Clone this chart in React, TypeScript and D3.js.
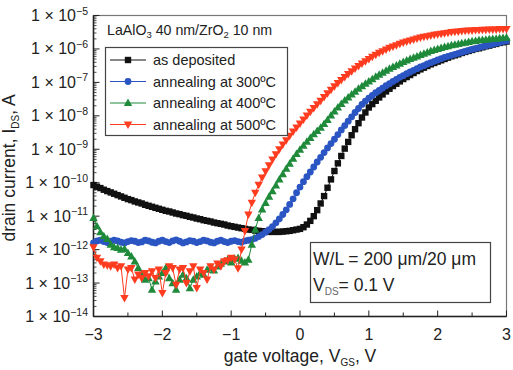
import * as d3 from 'd3';

// gate voltage sweep, -3 V .. 3 V in 0.05 V steps
const gateVoltage = d3.range(121).map((i) => +(-3 + i * 0.05).toFixed(2));

// log10 of drain current (A), one value per sweep point
const asDeposited = [
  -10.07, -10.12, -10.16, -10.21, -10.25, -10.29, -10.33, -10.37, -10.41, -10.45,
  -10.49, -10.52, -10.56, -10.59, -10.62, -10.66, -10.69, -10.72, -10.75, -10.78,
  -10.81, -10.84, -10.86, -10.89, -10.92, -10.94, -10.97, -10.99, -11.02, -11.04,
  -11.07, -11.09, -11.12, -11.14, -11.16, -11.19, -11.21, -11.23, -11.25, -11.28,
  -11.3, -11.32, -11.34, -11.36, -11.38, -11.4, -11.41, -11.43, -11.44, -11.45,
  -11.46, -11.47, -11.47, -11.47, -11.47, -11.46, -11.45, -11.44, -11.42, -11.4,
  -11.38, -11.33, -11.25, -11.14, -11.0, -10.82, -10.62, -10.4, -10.15, -9.9,
  -9.65, -9.42, -9.2, -8.98, -8.78, -8.58, -8.4, -8.22, -8.05, -7.9,
  -7.75, -7.65, -7.55, -7.45, -7.36, -7.27, -7.19, -7.11, -7.04, -6.97,
  -6.9, -6.84, -6.78, -6.72, -6.66, -6.61, -6.56, -6.51, -6.46, -6.42,
  -6.38, -6.34, -6.3, -6.26, -6.22, -6.19, -6.16, -6.12, -6.09, -6.06,
  -6.03, -6.0, -5.98, -5.95, -5.92, -5.9, -5.87, -5.85, -5.82, -5.8,
  -5.78,
];

const annealed300 = [
  -11.8, -11.74, -11.72, -11.76, -11.79, -11.75, -11.72, -11.74, -11.78, -11.8,
  -11.76, -11.73, -11.75, -11.79, -11.77, -11.72, -11.74, -11.78, -11.8, -11.75,
  -11.72, -11.76, -11.79, -11.74, -11.71, -11.75, -11.8, -11.77, -11.73, -11.75,
  -11.79, -11.76, -11.72, -11.74, -11.78, -11.8, -11.75, -11.72, -11.76, -11.79,
  -11.75, -11.73, -11.76, -11.78, -11.74, -11.72, -11.7, -11.66, -11.61, -11.55,
  -11.48, -11.4, -11.31, -11.2, -11.08, -10.95, -10.81, -10.65, -10.48, -10.3,
  -10.13, -9.97, -9.82, -9.68, -9.53, -9.38, -9.24, -9.1, -8.96, -8.83,
  -8.7, -8.56, -8.42, -8.29, -8.16, -8.03, -7.9, -7.78, -7.66, -7.56,
  -7.47, -7.39, -7.31, -7.24, -7.17, -7.1, -7.04, -6.97, -6.91, -6.85,
  -6.8, -6.74, -6.69, -6.64, -6.59, -6.54, -6.5, -6.45, -6.41, -6.37,
  -6.33, -6.29, -6.25, -6.22, -6.19, -6.16, -6.13, -6.1, -6.07, -6.04,
  -6.01, -5.99, -5.96, -5.93, -5.91, -5.88, -5.86, -5.83, -5.81, -5.78,
  -5.76,
];

const annealed400 = [
  -11.05, -11.3, -11.48, -11.6, -11.68, -11.85, -11.93, -11.95, -12.0, -11.98,
  -12.1, -12.2, -12.35, -12.55, -12.75, -12.9, -12.85, -13.2, -12.95, -12.8,
  -12.7, -12.55, -12.85, -13.0, -13.2, -12.9, -12.75, -12.85, -13.15, -12.9,
  -12.8, -12.7, -12.75, -12.6, -12.55, -12.62, -12.5, -12.42, -12.35, -12.3,
  -12.38, -12.27, -12.25, -12.33, -12.38, -12.3, -11.85, -11.4, -11.05, -10.8,
  -10.6, -10.42, -10.25, -10.08, -9.9, -9.74, -9.58, -9.43, -9.28, -9.14,
  -9.01, -8.89, -8.77, -8.66, -8.55, -8.45, -8.35, -8.24, -8.12, -7.99,
  -7.87, -7.75, -7.64, -7.54, -7.45, -7.36, -7.28, -7.19, -7.11, -7.04,
  -6.97, -6.9, -6.83, -6.77, -6.71, -6.65, -6.59, -6.54, -6.49, -6.44,
  -6.39, -6.34, -6.3, -6.26, -6.22, -6.18, -6.14, -6.1, -6.06, -6.03,
  -6.0, -5.97, -5.94, -5.92, -5.89, -5.87, -5.85, -5.83, -5.81, -5.79,
  -5.77, -5.76, -5.74, -5.73, -5.72, -5.71, -5.7, -5.69, -5.68, -5.67,
  -5.66,
];

const annealed500 = [
  -11.93, -12.25, -12.35, -12.45, -12.47, -12.5, -12.45, -12.55, -12.5, -13.45,
  -12.6, -12.55, -12.9, -12.75, -12.85, -12.7, -12.8, -12.65, -12.85, -12.6,
  -13.3, -12.7, -12.5, -12.55, -13.05, -12.6, -12.55, -13.0, -12.65, -12.5,
  -13.15, -12.6, -12.7, -12.9, -12.5, -12.6, -12.42, -12.5, -12.35, -12.32,
  -12.25, -12.3, -12.56, -12.0, -11.45, -10.95, -10.6, -10.3, -10.06, -9.85,
  -9.66, -9.48, -9.31, -9.15, -9.0, -8.86, -8.73, -8.6, -8.47, -8.35,
  -8.23, -8.11, -7.99, -7.88, -7.77, -7.66, -7.55, -7.44, -7.33, -7.22,
  -7.12, -7.02, -6.93, -6.84, -6.75, -6.67, -6.59, -6.51, -6.44, -6.37,
  -6.3, -6.24, -6.18, -6.12, -6.07, -6.02, -5.97, -5.93, -5.89, -5.85,
  -5.81, -5.78, -5.75, -5.72, -5.69, -5.66, -5.64, -5.62, -5.6, -5.58,
  -5.56, -5.55, -5.53, -5.52, -5.5, -5.49, -5.48, -5.47, -5.46, -5.45,
  -5.45, -5.44, -5.44, -5.43, -5.43, -5.42, -5.42, -5.42, -5.41, -5.41,
  -5.41,
];

const seriesNames = ['as deposited', 'annealing at 300ºC', 'annealing at 400ºC', 'annealing at 500ºC'];
const seriesColors = ['#111111', '#2a55c2', '#1e8a3a', '#ff3c1f'];
const seriesMarkers = ['square', 'circle', 'up', 'down'];
const xTicks = [-3, -2, -1, 0, 1, 2, 3];
const yExponents = [-5, -6, -7, -8, -9, -10, -11, -12, -13, -14];

const W = 513;
const H = 370;
const left = 93.5;
const right = 506.5;
const top = 15.5;
const bottom = 316.5;

const x = d3.scaleLinear().domain([-3, 3]).range([left, right]);
const y = d3.scaleLog().domain([1e-14, 1e-5]).range([bottom, top]);

const font = 'Liberation Sans, Arial, Helvetica, sans-serif';

function Marker({ kind, cx, cy, color }: any) {
  if (kind === 'square') return <rect x={cx - 3.2} y={cy - 3.2} width={6.4} height={6.4} fill={color} />;
  if (kind === 'circle') return <circle cx={cx} cy={cy} r={3.4} fill={color} />;
  if (kind === 'up')
    return <path d={`M${cx},${cy - 4.4} L${cx + 4.2},${cy + 3.1} L${cx - 4.2},${cy + 3.1}Z`} fill={color} />;
  return <path d={`M${cx},${cy + 4.4} L${cx + 4.2},${cy - 3.1} L${cx - 4.2},${cy - 3.1}Z`} fill={color} />;
}

export default function App() {
  const allSeries = [asDeposited, annealed300, annealed400, annealed500].map((logs) =>
    gateVoltage.map((v, i) => ({ v, id: Math.pow(10, logs[i]) }))
  );
  const line = d3
    .line<any>()
    .x((d) => x(d.v))
    .y((d) => y(d.id));

  const minorX = d3.range(-3, 3.01, 0.5);
  const minorY: number[] = [];
  for (let e = -14; e < -5; e++) for (let m = 2; m <= 9; m++) minorY.push(m * Math.pow(10, e));

  return (
    <svg width={W} height={H} style={{ position: 'absolute', left: 0, top: 0 }} fontFamily={font}>
      <rect x={0} y={0} width={W} height={H} fill="#fff" />
      {/* frame */}
      <rect x={left} y={top} width={right - left} height={bottom - top} fill="none" stroke="#777" strokeWidth={1.2} />
      <line x1={left} x2={left} y1={top} y2={bottom} stroke="#222" strokeWidth={1.5} />
      <line x1={left} x2={right} y1={bottom} y2={bottom} stroke="#222" strokeWidth={1.5} />

      {/* x ticks */}
      {minorX.map((t) => (
        <line key={'xt' + t} x1={x(t)} x2={x(t)} y1={bottom} y2={bottom - (Number.isInteger(t) ? 6 : 4)} stroke="#222" />
      ))}
      {xTicks.map((t) => (
        <text key={'xl' + t} x={x(t)} y={340} fontSize={16} textAnchor="middle" fill="#222">
          {t < 0 ? '−' + Math.abs(t) : t}
        </text>
      ))}

      {/* y ticks */}
      {yExponents.map((e) => (
        <line key={'yt' + e} x1={left} x2={left + 6} y1={y(Math.pow(10, e))} y2={y(Math.pow(10, e))} stroke="#222" />
      ))}
      {minorY.map((v, i) => (
        <line key={'ym' + i} x1={left} x2={left + 3} y1={y(v)} y2={y(v)} stroke="#222" strokeWidth={0.8} />
      ))}
      {yExponents.map((e) => (
        <text key={'yl' + e} x={88} y={y(Math.pow(10, e)) + 5.5} fontSize={16} textAnchor="end" fill="#222">
          1 × 10<tspan fontSize={10.5} dy={-6.5}>{'−' + Math.abs(e)}</tspan>
        </text>
      ))}

      {/* series */}
      {allSeries.map((s, k) => (
        <g key={'s' + k}>
          <path d={line(s) ?? ''} fill="none" stroke={seriesColors[k]} strokeWidth={1} />
          {s.map((d, i) => (
            <Marker key={i} kind={seriesMarkers[k]} cx={x(d.v)} cy={y(d.id)} color={seriesColors[k]} />
          ))}
        </g>
      ))}

      {/* sample title */}
      <text x={107} y={35} fontSize={14.2} fill="#222">
        LaAlO<tspan fontSize={9.5} dy={3}>3</tspan>
        <tspan dy={-3}> 40 nm/ZrO</tspan>
        <tspan fontSize={9.5} dy={3}>2</tspan>
        <tspan dy={-3}> 10 nm</tspan>
      </text>

      {/* legend */}
      <rect x={105.5} y={47.5} width={182} height={88} fill="#fff" stroke="#444" strokeWidth={1.2} />
      {seriesNames.map((name, k) => {
        const cy = 60 + k * 21.5;
        return (
          <g key={'lg' + k}>
            <line x1={110} x2={146} y1={cy} y2={cy} stroke={seriesColors[k]} strokeWidth={1.2} />
            <Marker kind={seriesMarkers[k]} cx={128} cy={cy} color={seriesColors[k]} />
            <text x={153} y={cy + 5} fontSize={14.5} fill="#222">
              {name}
            </text>
          </g>
        );
      })}

      {/* conditions box */}
      <rect x={310.5} y={242.5} width={180} height={60} fill="#fff" stroke="#444" strokeWidth={1.2} />
      <text x={313} y={265} fontSize={17.5} fill="#222">
        W/L = 200 μm/20 μm
      </text>
      <text x={313} y={291} fontSize={17.5} fill="#222">
        V<tspan fontSize={10} dy={4} fill="#666">DS</tspan>
        <tspan dy={-4}>= 0.1 V</tspan>
      </text>

      {/* axis titles */}
      <text x={300} y={362} fontSize={17.5} textAnchor="middle" fill="#222">
        gate voltage, V<tspan fontSize={10} dy={4}>GS</tspan>
        <tspan dy={-4}>, V</tspan>
      </text>
      <text transform="translate(15,168) rotate(-90)" fontSize={17.5} textAnchor="middle" fill="#222">
        drain current, I<tspan fontSize={10} dy={4}>DS</tspan>
        <tspan dy={-4}>, A</tspan>
      </text>
    </svg>
  );
}
